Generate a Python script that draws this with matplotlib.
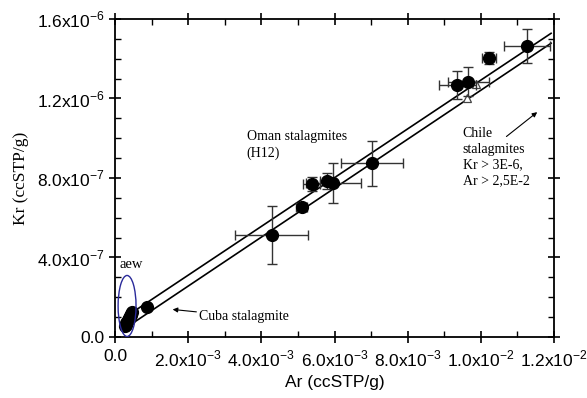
import numpy as np
import matplotlib
matplotlib.use('Agg')
import matplotlib.pyplot as plt
from matplotlib.patches import Ellipse
from matplotlib.ticker import MultipleLocator

# Stalagmite noble gas data (ccSTP/g)
ar = [0.875e-3, 4.28e-3, 5.10e-3, 5.38e-3, 5.80e-3, 5.97e-3, 7.02e-3,
      9.36e-3, 9.66e-3, 10.22e-3, 11.26e-3]
kr = [0.151e-6, 0.513e-6, 0.656e-6, 0.770e-6, 0.786e-6, 0.773e-6, 0.874e-6,
      1.268e-6, 1.285e-6, 1.402e-6, 1.464e-6]
ar_err = [0, 1.0e-3, 0.15e-3, 0.23e-3, 0.2e-3, 0.75e-3, 0.84e-3,
          0.5e-3, 0.56e-3, 0.2e-3, 0.64e-3]
kr_err = [0, 0.147e-6, 0.02e-6, 0.037e-6, 0.04e-6, 0.10e-6, 0.112e-6,
          0.072e-6, 0.075e-6, 0.03e-6, 0.084e-6]

# air-equilibrated water cluster
aew_ar = [0.27e-3, 0.29e-3, 0.31e-3, 0.33e-3, 0.35e-3, 0.37e-3, 0.39e-3, 0.41e-3, 0.43e-3, 0.45e-3, 0.47e-3]
aew_kr = [0.055e-6, 0.062e-6, 0.069e-6, 0.076e-6, 0.083e-6, 0.090e-6, 0.097e-6, 0.104e-6, 0.111e-6, 0.118e-6, 0.125e-6]

# open triangles
tri_ar = [9.86e-3, 9.61e-3]
tri_kr = [1.273e-6, 1.204e-6]

# two parallel lines (end points)
line1_ar = [0.574e-3, 11.92e-3]
line1_kr = [0.136e-6, 1.528e-6]
line2_ar = [0.547e-3, 11.92e-3]
line2_kr = [0.077e-6, 1.478e-6]

xticks = [0, 2e-3, 4e-3, 6e-3, 8e-3, 10e-3, 12e-3]
xlabels = ['0.0', r'2.0x10$^{\mathregular{-3}}$', r'4.0x10$^{\mathregular{-3}}$', r'6.0x10$^{\mathregular{-3}}$',
           r'8.0x10$^{\mathregular{-3}}$', r'1.0x10$^{\mathregular{-2}}$', r'1.2x10$^{\mathregular{-2}}$']
yticks = [0, 0.4e-6, 0.8e-6, 1.2e-6, 1.6e-6]
ylabels = ['0.0', r'4.0x10$^{\mathregular{-7}}$', r'8.0x10$^{\mathregular{-7}}$',
           r'1.2x10$^{\mathregular{-6}}$', r'1.6x10$^{\mathregular{-6}}$']

plt.rcParams['font.family'] = 'Liberation Sans'
plt.rcParams['mathtext.fontset'] = 'custom'
plt.rcParams['mathtext.rm'] = 'Liberation Sans'

fig = plt.figure(figsize=(5.87, 3.98), dpi=100)
ax = fig.add_axes([0.1959, 0.1533, 0.7479, 0.7990])

ax.plot(line1_ar, line1_kr, color='black', lw=1.2)
ax.plot(line2_ar, line2_kr, color='black', lw=1.2)

ax.errorbar(ar, kr, xerr=ar_err, yerr=kr_err, fmt='o', color='black', ms=8.5,
            ecolor='#333333', elinewidth=1, capsize=3.5, capthick=1, zorder=3)
ax.plot(aew_ar, aew_kr, 'o', color='black', ms=8.5, zorder=3)
ax.plot(tri_ar, tri_kr, '^', mfc='white', mec='#444444', ms=6, mew=0.9, zorder=2)

ax.add_patch(Ellipse((0.33e-3, 0.156e-6), 0.49e-3, 0.307e-6, fill=False,
                     edgecolor='#2a2a9a', lw=1.0, zorder=4))

serif = 'Liberation Serif'
ax.text(0.12e-3, 0.345e-6, 'aew', family=serif, fontsize=10.5)
ax.text(2.3e-3, 0.105e-6, 'Cuba stalagmite', family=serif, fontsize=10, va='center')
ax.annotate('', xy=(1.5e-3, 0.14e-6), xytext=(2.3e-3, 0.125e-6),
            arrowprops=dict(arrowstyle='-|>', color='black', lw=0.8, mutation_scale=7))
ax.text(3.6e-3, 1.04e-6, 'Oman stalagmites\n(H12)', family=serif, fontsize=10,
        va='top', linespacing=1.35)
ax.text(9.5e-3, 1.055e-6, 'Chile\nstalagmites\nKr > 3E-6,\nAr > 2,5E-2', family=serif,
        fontsize=10, va='top', linespacing=1.25)
ax.annotate('', xy=(11.6e-3, 1.14e-6), xytext=(10.64e-3, 1.0e-6),
            arrowprops=dict(arrowstyle='-|>', color='black', lw=0.8, mutation_scale=7))

ax.set_xlim(0, 12e-3)
ax.set_ylim(0, 1.6e-6)
ax.set_xticks(xticks)
ax.set_xticklabels(xlabels)
ax.set_yticks(yticks)
ax.set_yticklabels(ylabels)
ax.xaxis.set_minor_locator(MultipleLocator(1e-3))
ax.yaxis.set_minor_locator(MultipleLocator(1e-7))
ax.tick_params(which='major', direction='inout', length=9, width=1.2, labelsize=12.5,
               top=True, right=True, pad=3)
ax.tick_params(axis='x', which='major', pad=4)
ax.tick_params(which='minor', direction='in', length=4, width=1.0, top=True, right=True)
for s in ax.spines.values():
    s.set_linewidth(1.3)

ax.set_xlabel('Ar (ccSTP/g)', fontsize=12.5, labelpad=4)
ax.set_ylabel('Kr (ccSTP/g)', family=serif, fontsize=12.5, labelpad=6)

fig.savefig('out.png', dpi=100)
